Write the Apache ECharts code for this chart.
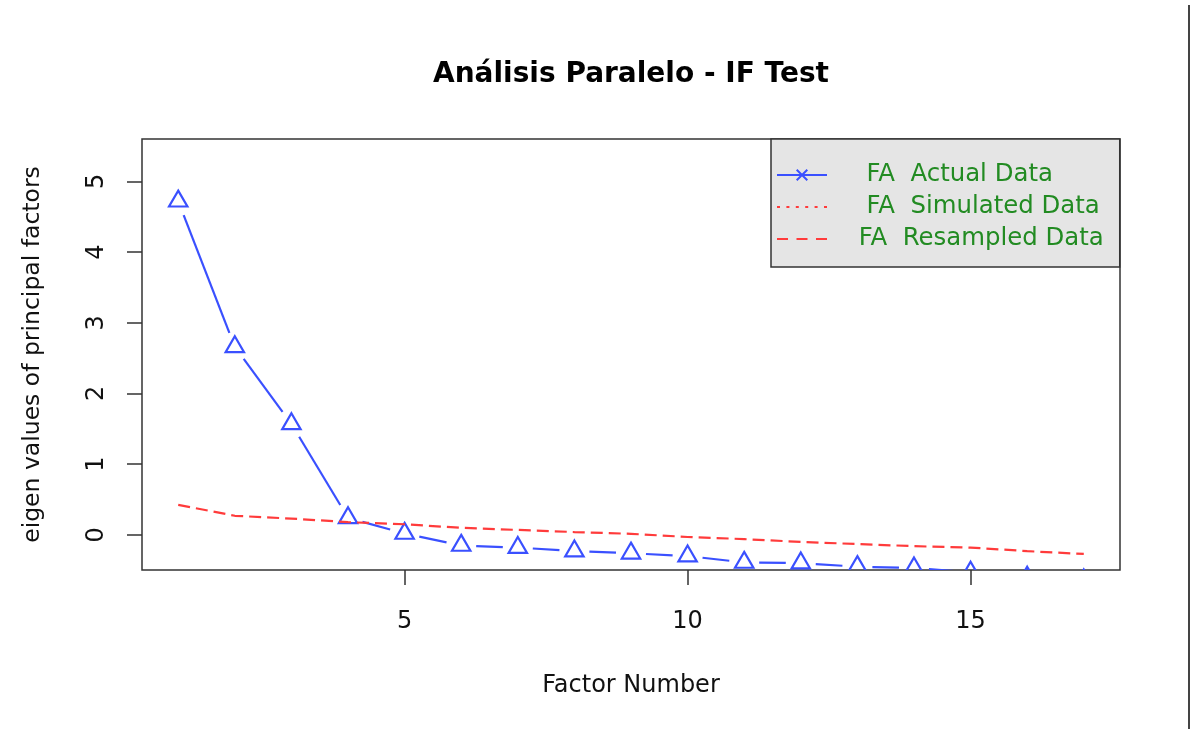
<!DOCTYPE html>
<html>
<head>
<meta charset="utf-8">
<script src="https://cdn.jsdelivr.net/npm/echarts@6/dist/echarts.min.js"></script>
<style>
html,body{margin:0;padding:0;background:#ffffff;}
#chart{width:1191px;height:729px;}
</style>
</head>
<body>
<div id="chart"></div>
<script>
// ---- data ----
const factorNumbers = [1,2,3,4,5,6,7,8,9,10,11,12,13,14,15,16,17];
const actualData    = [4.72,2.66,1.57,0.24,0.02,-0.15,-0.18,-0.23,-0.26,-0.30,-0.39,-0.40,-0.45,-0.47,-0.53,-0.60,-0.64];
const resampledData = [0.425,0.27,0.23,0.18,0.15,0.10,0.07,0.04,0.015,-0.03,-0.06,-0.10,-0.13,-0.16,-0.18,-0.23,-0.27];
const simulatedData = []; // not drawn in the reference (legend entry only)
const xTicks = [5,10,15];
const yTicks = [0,1,2,3,4,5];
const legendNames = ['  FA  Actual Data','  FA  Simulated Data',' FA  Resampled Data'];
const titleText = 'Análisis Paralelo - IF Test';
const xName = 'Factor Number';
const yName = 'eigen values of principal factors';

const BLUE = '#3a50ff';
const RED = '#ff3b3b';
const GREEN = '#228B22';
const FONT = 'DejaVu Sans';

const actualPoints = factorNumbers.map((x,i) => [
  x, actualData[i],
  i < factorNumbers.length-1 ? factorNumbers[i+1] : null,
  i < factorNumbers.length-1 ? actualData[i+1] : null
]);
const resampledPoints = factorNumbers.map((x,i) => [x, resampledData[i]]);

const chart = echarts.init(document.getElementById('chart'), null, {renderer:'canvas'});
chart.setOption({
  animation: false,
  backgroundColor: '#ffffff',
  title: {
    text: titleText,
    left: 631, top: 61, textAlign: 'center', padding: 0,
    textStyle: {fontFamily: FONT, fontSize: 28, fontWeight: 'bold', color: '#000', lineHeight: 28}
  },
  grid: {
    left: 142, right: 71, top: 139, bottom: 159,
    show: true, borderColor: '#333', borderWidth: 1.5, backgroundColor: 'transparent',
    containLabel: false
  },
  legend: {
    orient: 'vertical', left: 771, top: 139,
    padding: [24, 16, 16, 6],
    itemWidth: 50, itemHeight: 14, itemGap: 8,
    symbolKeepAspect: true,
    selectedMode: false,
    backgroundColor: '#e5e5e5', borderColor: '#333', borderWidth: 1.5,
    textStyle: {fontFamily: FONT, fontSize: 24.4, color: GREEN, lineHeight: 24, padding: [0,0,0,19]},
    data: [
      {name: legendNames[0], icon: 'path://M0,6H50V8H0Z M19,2.4L20.4,1L31,11.6L29.6,13Z M29.6,1L31,2.4L20.4,13L19,11.6Z', itemStyle: {color: BLUE, borderWidth: 0}},
      {name: legendNames[1], icon: 'path://M0,0H3V2H0Z M9.4,0H12.4V2H9.4Z M18.8,0H21.8V2H18.8Z M28.2,0H31.2V2H28.2Z M37.6,0H40.6V2H37.6Z M47,0H50V2H47Z', itemStyle: {color: RED, borderWidth: 0}},
      {name: legendNames[2], icon: 'path://M0,0H11V2H0Z M19.5,0H30.5V2H19.5Z M39,0H50V2H39Z', itemStyle: {color: RED, borderWidth: 0}}
    ]
  },
  xAxis: {
    type: 'value', min: 0.36, max: 17.64,
    splitLine: {show: false},
    axisLine: {show: false, onZero: false},
    axisTick: {show: true, inside: false, length: 15, customValues: xTicks, lineStyle: {color: '#333', width: 1.5}},
    axisLabel: {customValues: xTicks, fontFamily: FONT, fontSize: 24, color: '#111', margin: 40},
    name: xName, nameLocation: 'middle', nameGap: 104,
    nameTextStyle: {fontFamily: FONT, fontSize: 24, color: '#111'}
  },
  yAxis: {
    type: 'value', min: -0.497, max: 5.60,
    splitLine: {show: false},
    axisLine: {show: false, onZero: false},
    axisTick: {show: true, inside: false, length: 15, customValues: yTicks, lineStyle: {color: '#333', width: 1.5}},
    axisLabel: {customValues: yTicks, rotate: 90, fontFamily: FONT, fontSize: 24, color: '#111', margin: 33},
    name: yName, nameLocation: 'middle', nameGap: 97,
    nameTextStyle: {fontFamily: FONT, fontSize: 23.5, color: '#111'}
  },
  series: [
    {
      name: legendNames[0],
      type: 'custom',
      clip: true,
      coordinateSystem: 'cartesian2d',
      itemStyle: {color: BLUE},
      encode: {x: 0, y: 1},
      data: actualPoints,
      renderItem: function (params, api) {
        const p = api.coord([api.value(0), api.value(1)]);
        const children = [{
          type: 'polygon',
          shape: {points: [[p[0], p[1]-10.6], [p[0]+9.2, p[1]+5.3], [p[0]-9.2, p[1]+5.3]]},
          style: {fill: 'none', stroke: BLUE, lineWidth: 2.2}
        }];
        const nx = api.value(2), ny = api.value(3);
        if (isFinite(nx) && isFinite(ny)) {
          const q = api.coord([nx, ny]);
          const dx = q[0]-p[0], dy = q[1]-p[1];
          const len = Math.sqrt(dx*dx + dy*dy);
          const gap = 15;
          if (len > 2*gap) {
            const ux = dx/len, uy = dy/len;
            children.push({
              type: 'line',
              shape: {x1: p[0]+ux*gap, y1: p[1]+uy*gap, x2: q[0]-ux*gap, y2: q[1]-uy*gap},
              style: {stroke: BLUE, lineWidth: 2.2}
            });
          }
        }
        return {type: 'group', children: children};
      }
    },
    {
      name: legendNames[1],
      type: 'line',
      data: simulatedData,
      showSymbol: false, symbol: 'none',
      itemStyle: {color: RED},
      lineStyle: {color: RED, width: 2, type: [3, 6]}
    },
    {
      name: legendNames[2],
      type: 'line',
      data: resampledPoints,
      showSymbol: false, symbol: 'none',
      clip: true,
      itemStyle: {color: RED},
      lineStyle: {color: RED, width: 2.2, type: [12, 6]}
    }
  ],
  graphic: [
    {type: 'line', shape: {x1: 1189, y1: 5, x2: 1189, y2: 729}, style: {stroke: '#444', lineWidth: 2}, silent: true}
  ]
});
</script>
</body>
</html>
